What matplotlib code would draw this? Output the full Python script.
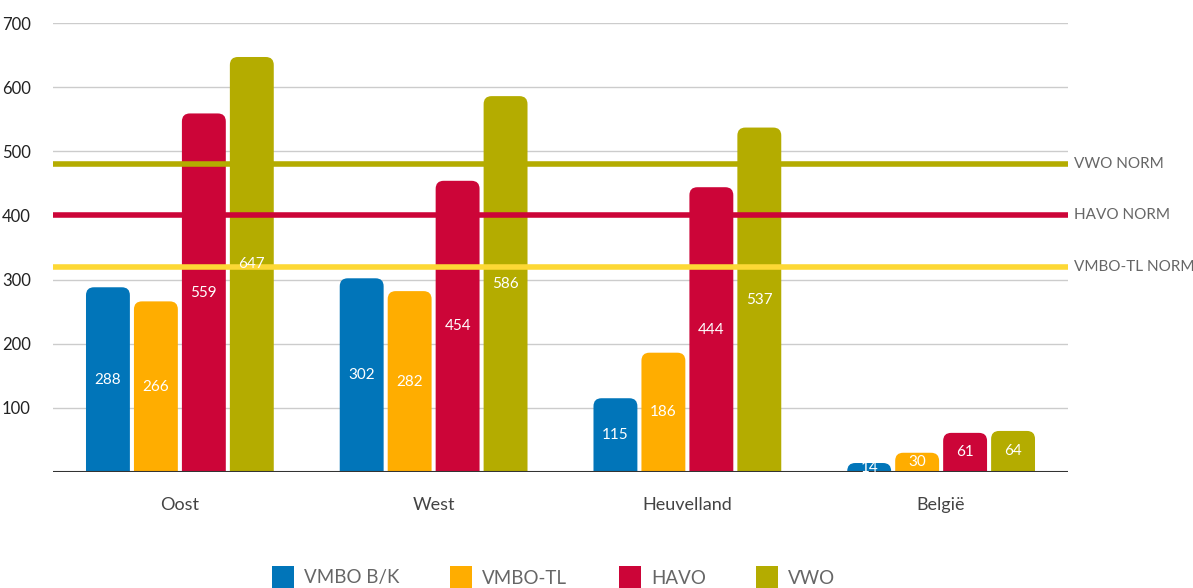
import numpy as np
import matplotlib.pyplot as plt
from matplotlib.patches import FancyBboxPatch, Rectangle

plt.rcParams['font.family'] = ['Lato', 'DejaVu Sans']

categories = ['Oost', 'West', 'Heuvelland', 'België']
series = ['VMBO B/K', 'VMBO-TL', 'HAVO', 'VWO']
values = {
    'VMBO B/K': [288, 302, 115, 14],
    'VMBO-TL': [266, 282, 186, 30],
    'HAVO': [559, 454, 444, 61],
    'VWO': [647, 586, 537, 64],
}
colors = ['#0175B9', '#FFAD00', '#CC0538', '#B4AC00']

norm_names = ['VWO NORM', 'HAVO NORM', 'VMBO-TL NORM']
norm_values = [480, 400, 320]
norm_colors = ['#B4AC00', '#CC0538', '#FDD835']

yticks = [100, 200, 300, 400, 500, 600, 700]

W, H = 1193, 588
fig = plt.figure(figsize=(W / 100, H / 100), dpi=100)
ax = fig.add_axes([53 / W, (H - 472) / H, (1068 - 53) / W, (472 - 23) / H])
ax.set_xlim(0, 4)
ax.set_ylim(0, 700)

# grid
for t in yticks:
    ax.axhline(t, color='#cccccc', lw=1, zorder=0)

bar_w = 0.173
pitch = 0.189
px_x = (1068 - 53) / 4.0
px_y = (472 - 23) / 700.0
r = 8 / px_x
aspect = (1 / px_y) / (1 / px_x)

for i, s in enumerate(series):
    for j, v in enumerate(values[s]):
        xc = j + 0.5 + (i - 1.5) * pitch
        x0 = xc - bar_w / 2
        patch = FancyBboxPatch((x0, -30), bar_w, v + 30,
                               boxstyle=f"round,pad=0,rounding_size={r}",
                               mutation_aspect=aspect,
                               facecolor=colors[i], edgecolor='none', zorder=2)
        ax.add_patch(patch)
        ax.text(xc, v / 2, str(v), ha='center', va='center', color='white',
                fontsize=11, zorder=5)

# norm lines
for name, val, c in zip(norm_names, norm_values, norm_colors):
    ax.axhline(val, color=c, lw=4, zorder=3)
    ax.text(1.006, val, name, transform=ax.get_yaxis_transform(), ha='left',
            va='center', color='#666666', fontsize=11)

ax.axhline(0, color='#333333', lw=1.5, zorder=4)

for sp in ax.spines.values():
    sp.set_visible(False)
ax.set_yticks(yticks)
ax.set_yticklabels([str(t) for t in yticks], fontsize=12, color='#222222')
ax.tick_params(axis='y', length=0, pad=16)
ax.set_xticks(np.arange(4) + 0.5)
ax.set_xticklabels(categories, fontsize=13, color='#444444')
ax.tick_params(axis='x', length=0, pad=18)

# legend
leg_x = [272, 450, 619, 756]
for i, s in enumerate(series):
    fig.add_artist(Rectangle((leg_x[i] / W, 0), 22 / W, 22 / H,
                             transform=fig.transFigure, facecolor=colors[i],
                             edgecolor='none'))
    fig.text((leg_x[i] + 32) / W, (H - 578) / H, s, ha='left', va='center',
             fontsize=13.5, color='#666666')

fig.savefig('out.png', dpi=100)
